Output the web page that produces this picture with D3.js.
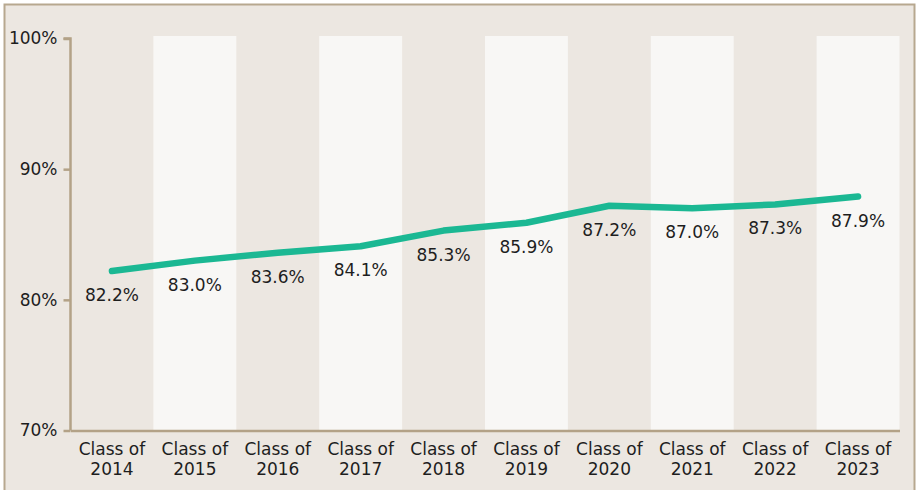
<!DOCTYPE html>
<html>
<head>
<meta charset="utf-8">
<script src="https://cdn.jsdelivr.net/npm/d3@7"></script>
<style>
  html, body { margin: 0; padding: 0; background: #ffffff; }
  svg { display: block; }
  text { font-family: "DejaVu Sans", sans-serif; fill: #1e1e1e; }
</style>
</head>
<body>
<svg id="chart" width="918" height="490"></svg>
<script>
// Graduation rate by class year
const classes = ["2014", "2015", "2016", "2017", "2018", "2019", "2020", "2021", "2022", "2023"];
const rates = [82.2, 83.0, 83.6, 84.1, 85.3, 85.9, 87.2, 87.0, 87.3, 87.9];
const yTicks = [70, 80, 90, 100];

const W = 918, H = 490;
const margin = { left: 70.5, right: 18.5, top: 38.5, bottom: 59.5 };
const svg = d3.select("#chart");

// panel background and frame
svg.append("rect").attr("x", 0).attr("y", 0).attr("width", W).attr("height", H).attr("fill", "#ffffff");
svg.append("rect")
  .attr("x", 4.5).attr("y", 4.5).attr("width", 910).attr("height", 500)
  .attr("fill", "#ece7e1").attr("stroke", "#b7a88f").attr("stroke-width", 2);

const x = d3.scaleBand().domain(classes).range([margin.left, W - margin.right]).padding(0);
const y = d3.scaleLinear().domain([70, 100]).range([H - margin.bottom, margin.top]);

// alternating column bands
svg.append("g").selectAll("rect")
  .data(classes.filter((d, i) => i % 2 === 1))
  .join("rect")
  .attr("x", d => x(d))
  .attr("y", y(100) - 2.5)
  .attr("width", x.bandwidth())
  .attr("height", y(70) - y(100) + 2.5)
  .attr("fill", "#f8f7f5");

// y axis
const yAxis = svg.append("g")
  .attr("transform", `translate(${margin.left},0)`)
  .call(d3.axisLeft(y).tickValues(yTicks).tickFormat(d => d + "%").tickSize(7).tickPadding(6));
yAxis.select(".domain").attr("stroke", "#b3a287").attr("stroke-width", 2.5).attr("d", `M-7,${y(100)}H0V${y(70)}`);
yAxis.selectAll(".tick line").attr("stroke", "#b3a287").attr("stroke-width", 2.5);
yAxis.selectAll(".tick text").attr("font-size", 17).attr("fill", "#1e1e1e")
  .style("font-family", '"DejaVu Sans", sans-serif');

// x axis
const xAxis = svg.append("g")
  .attr("transform", `translate(0,${y(70)})`)
  .call(d3.axisBottom(x).tickSize(0).tickFormat(""));
xAxis.select(".domain").attr("stroke", "#b3a287").attr("stroke-width", 2.5);
xAxis.selectAll(".tick").each(function(d) {
  const t = d3.select(this).append("text")
    .attr("text-anchor", "middle")
    .attr("font-size", 17)
    .attr("fill", "#1e1e1e")
    .style("font-family", '"DejaVu Sans", sans-serif');
  t.append("tspan").attr("x", 0).attr("y", 24).text("Class of");
  t.append("tspan").attr("x", 0).attr("y", 44).text(d);
});

// trend line
const cx = d => x(d) + x.bandwidth() / 2;
const line = d3.line().x((d, i) => cx(classes[i])).y(d => y(d));
svg.append("path")
  .datum(rates)
  .attr("d", line)
  .attr("fill", "none")
  .attr("stroke", "#1bb893")
  .attr("stroke-width", 6.5)
  .attr("stroke-linecap", "round")
  .attr("stroke-linejoin", "round");

// value labels under the line
svg.append("g").selectAll("text")
  .data(rates)
  .join("text")
  .attr("x", (d, i) => cx(classes[i]))
  .attr("y", d => y(d) + 30)
  .attr("text-anchor", "middle")
  .attr("font-size", 17)
  .text(d => d.toFixed(1) + "%");
</script>
</body>
</html>
